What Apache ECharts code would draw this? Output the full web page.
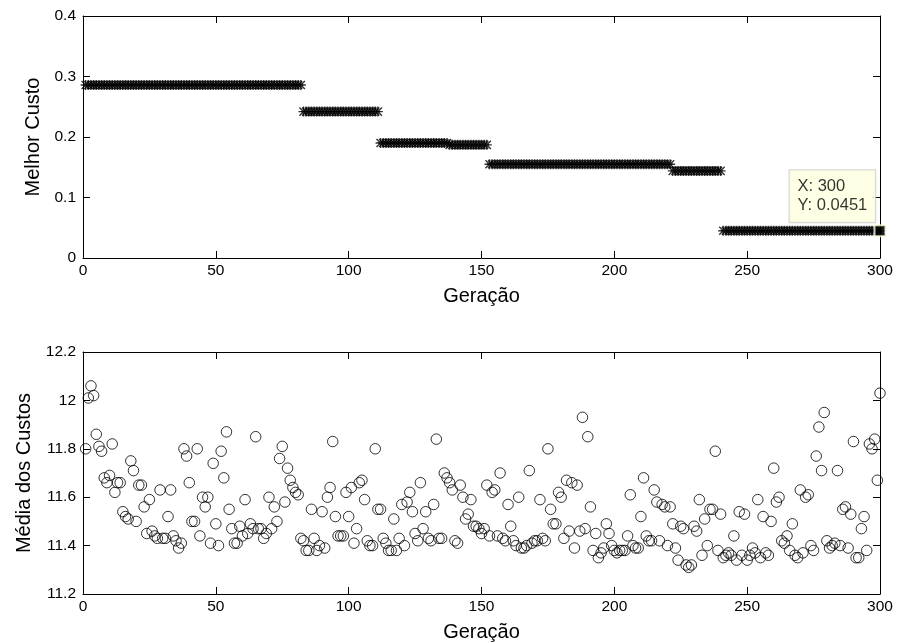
<!DOCTYPE html>
<html>
<head>
<meta charset="utf-8">
<script src="https://cdn.jsdelivr.net/npm/echarts@6/dist/echarts.min.js"></script>
<style>html,body{margin:0;padding:0;background:#fff}#c{width:898px;height:643px}</style>
</head>
<body>
<div id="c"></div>
<script>
// ---- Data ----
const xTickLabels = ['0','50','100','150','200','250','300'];
const topYTickLabels = ['0','0.1','0.2','0.3','0.4'];
const botYTickLabels = ['11.2','11.4','11.6','11.8','12','12.2'];

// Melhor Custo per generation (1..300)
const bestCost = [
0.286,0.286,0.286,0.286,0.286,0.286,0.286,0.286,0.286,0.286,
0.286,0.286,0.286,0.286,0.286,0.286,0.286,0.286,0.286,0.286,
0.286,0.286,0.286,0.286,0.286,0.286,0.286,0.286,0.286,0.286,
0.286,0.286,0.286,0.286,0.286,0.286,0.286,0.286,0.286,0.286,
0.286,0.286,0.286,0.286,0.286,0.286,0.286,0.286,0.286,0.286,
0.286,0.286,0.286,0.286,0.286,0.286,0.286,0.286,0.286,0.286,
0.286,0.286,0.286,0.286,0.286,0.286,0.286,0.286,0.286,0.286,
0.286,0.286,0.286,0.286,0.286,0.286,0.286,0.286,0.286,0.286,
0.286,0.286,
0.242,0.242,0.242,0.242,0.242,0.242,0.242,0.242,0.242,0.242,
0.242,0.242,0.242,0.242,0.242,0.242,0.242,0.242,0.242,0.242,
0.242,0.242,0.242,0.242,0.242,0.242,0.242,0.242,0.242,
0.190,0.190,0.190,0.190,0.190,0.190,0.190,0.190,0.190,0.190,
0.190,0.190,0.190,0.190,0.190,0.190,0.190,0.190,0.190,0.190,
0.190,0.190,0.190,0.190,0.190,0.190,
0.187,0.187,0.187,0.187,0.187,0.187,0.187,0.187,0.187,0.187,
0.187,0.187,0.187,0.187,0.187,
0.155,0.155,0.155,0.155,0.155,0.155,0.155,0.155,0.155,0.155,
0.155,0.155,0.155,0.155,0.155,0.155,0.155,0.155,0.155,0.155,
0.155,0.155,0.155,0.155,0.155,0.155,0.155,0.155,0.155,0.155,
0.155,0.155,0.155,0.155,0.155,0.155,0.155,0.155,0.155,0.155,
0.155,0.155,0.155,0.155,0.155,0.155,0.155,0.155,0.155,0.155,
0.155,0.155,0.155,0.155,0.155,0.155,0.155,0.155,0.155,0.155,
0.155,0.155,0.155,0.155,0.155,0.155,0.155,0.155,0.155,
0.144,0.144,0.144,0.144,0.144,0.144,0.144,0.144,0.144,0.144,
0.144,0.144,0.144,0.144,0.144,0.144,0.144,0.144,0.144,
0.0451,0.0451,0.0451,0.0451,0.0451,0.0451,0.0451,0.0451,0.0451,0.0451,
0.0451,0.0451,0.0451,0.0451,0.0451,0.0451,0.0451,0.0451,0.0451,0.0451,
0.0451,0.0451,0.0451,0.0451,0.0451,0.0451,0.0451,0.0451,0.0451,0.0451,
0.0451,0.0451,0.0451,0.0451,0.0451,0.0451,0.0451,0.0451,0.0451,0.0451,
0.0451,0.0451,0.0451,0.0451,0.0451,0.0451,0.0451,0.0451,0.0451,0.0451,
0.0451,0.0451,0.0451,0.0451,0.0451,0.0451,0.0451,0.0451,0.0451,0.0451
];

// Média dos Custos per generation (1..300)
const meanCost = [
11.80,12.01,12.06,12.02,11.86,11.81,11.79,11.68,11.66,11.69,
11.82,11.62,11.66,11.66,11.54,11.52,11.51,11.75,11.71,11.50,
11.65,11.65,11.56,11.45,11.59,11.46,11.44,11.43,11.63,11.43,
11.43,11.52,11.63,11.44,11.42,11.39,11.41,11.80,11.77,11.66,
11.50,11.50,11.80,11.44,11.60,11.56,11.60,11.41,11.74,11.49,
11.40,11.79,11.68,11.87,11.55,11.47,11.41,11.41,11.48,11.44,
11.59,11.45,11.49,11.47,11.85,11.47,11.47,11.43,11.45,11.60,
11.47,11.56,11.50,11.76,11.81,11.58,11.72,11.67,11.64,11.62,
11.61,11.43,11.42,11.38,11.38,11.55,11.43,11.38,11.40,11.54,
11.39,11.60,11.64,11.83,11.52,11.44,11.44,11.44,11.62,11.52,
11.64,11.41,11.47,11.66,11.67,11.59,11.42,11.40,11.40,11.80,
11.55,11.55,11.43,11.41,11.38,11.38,11.51,11.38,11.43,11.57,
11.40,11.58,11.62,11.54,11.45,11.42,11.66,11.47,11.54,11.43,
11.42,11.57,11.84,11.43,11.43,11.70,11.68,11.66,11.63,11.42,
11.41,11.65,11.60,11.51,11.53,11.59,11.48,11.48,11.47,11.45,
11.47,11.65,11.44,11.62,11.63,11.44,11.70,11.43,11.42,11.57,
11.48,11.42,11.40,11.60,11.39,11.39,11.40,11.71,11.41,11.42,
11.42,11.59,11.43,11.42,11.80,11.55,11.49,11.49,11.62,11.60,
11.43,11.67,11.46,11.66,11.39,11.65,11.46,11.93,11.47,11.85,
11.56,11.38,11.45,11.35,11.37,11.39,11.49,11.45,11.40,11.38,
11.37,11.38,11.38,11.38,11.44,11.61,11.40,11.39,11.39,11.52,
11.68,11.44,11.42,11.42,11.63,11.58,11.42,11.57,11.56,11.40,
11.56,11.49,11.39,11.34,11.48,11.47,11.32,11.31,11.32,11.48,
11.46,11.59,11.36,11.51,11.40,11.55,11.55,11.79,11.38,11.53,
11.35,11.36,11.37,11.36,11.44,11.34,11.54,11.36,11.53,11.34,
11.36,11.39,11.37,11.59,11.35,11.52,11.37,11.36,11.50,11.72,
11.58,11.60,11.42,11.41,11.44,11.38,11.49,11.36,11.35,11.63,
11.37,11.60,11.61,11.40,11.38,11.77,11.89,11.71,11.95,11.42,
11.39,11.40,11.41,11.71,11.40,11.55,11.56,11.39,11.53,11.83,
11.35,11.35,11.47,11.52,11.38,11.82,11.80,11.84,11.67,12.03
];

// Data tip point
const tipX = [300];
const tipY = [0.0451];

// ---- Chart ----
const FONT = '"Liberation Sans", Arial, Helvetica, sans-serif';
const chart = echarts.init(document.getElementById('c'), null, {renderer: 'canvas'});

const starPath = 'path://M4.3,0L5.7,0L5.7,10L4.3,10Z M0,4.3L10,4.3L10,5.7L0,5.7Z M1.45,0.45L9.55,8.55L8.55,9.55L0.45,1.45Z M8.55,0.45L9.55,1.45L1.45,9.55L0.45,8.55Z';

function xAx(grid, pos, showLabel) {
  return {
    gridIndex: grid, type: 'value', position: pos, min: 0, max: 300, interval: 50,
    axisLine: {show: true, onZero: false, lineStyle: {color: '#000', width: 1}},
    axisTick: {show: true, inside: true, length: 7, lineStyle: {color: '#000'}},
    axisLabel: {show: showLabel, color: '#000', fontSize: 15.5, fontFamily: FONT, margin: 5,
      formatter: v => { const i = xTickLabels.indexOf(String(Math.round(v))); return i >= 0 ? xTickLabels[i] : ''; }},
    splitLine: {show: false},
    name: showLabel ? 'Geração' : '', nameLocation: 'middle', nameGap: 28,
    nameTextStyle: {color: '#000', fontSize: 20, fontFamily: FONT}
  };
}
function yAx(grid, pos, showLabel, min, max, interval, labels, name) {
  return {
    gridIndex: grid, type: 'value', position: pos, min: min, max: max, interval: interval,
    axisLine: {show: true, onZero: false, lineStyle: {color: '#000', width: 1}},
    axisTick: {show: true, inside: true, length: 7, lineStyle: {color: '#000'}},
    axisLabel: {show: showLabel, color: '#000', fontSize: 15.5, fontFamily: FONT, margin: 7,
      formatter: v => { const i = Math.round((v - min) / interval); return labels[i] !== undefined ? labels[i] : ''; }},
    splitLine: {show: false},
    name: showLabel ? name : '', nameLocation: 'middle', nameGap: 35, nameRotate: 90,
    nameTextStyle: {color: '#000', fontSize: 20, fontFamily: FONT}
  };
}

const option = {
  backgroundColor: '#fff',
  animation: false,
  grid: [
    {left: 83, width: 797, top: 16, height: 242, show: false},
    {left: 83, width: 797, top: 352, height: 242, show: false}
  ],
  xAxis: [xAx(0, 'bottom', true), xAx(0, 'top', false), xAx(1, 'bottom', true), xAx(1, 'top', false)],
  yAxis: [
    yAx(0, 'left', true, 0, 0.4, 0.1, topYTickLabels, 'Melhor Custo'),
    yAx(0, 'right', false, 0, 0.4, 0.1, topYTickLabels, ''),
    yAx(1, 'left', true, 11.2, 12.2, 0.2, botYTickLabels, 'Média dos Custos'),
    yAx(1, 'right', false, 11.2, 12.2, 0.2, botYTickLabels, '')
  ],
  series: [
    {
      type: 'scatter', xAxisIndex: 0, yAxisIndex: 0,
      data: bestCost.map((v, i) => [i + 1, v]),
      symbol: starPath, symbolSize: 10,
      itemStyle: {color: '#000'}, silent: true
    },
    {
      type: 'scatter', xAxisIndex: 0, yAxisIndex: 0,
      data: tipX.map((x, i) => [x, tipY[i]]),
      symbol: 'rect', symbolSize: 11,
      itemStyle: {color: '#000', borderColor: '#ffffe0', borderWidth: 2},
      z: 5,
      label: {
        show: true, position: [-84, -54],
        formatter: p => 'X: ' + p.value[0] + '\nY: ' + p.value[1],
        color: '#000', fontSize: 16.5, fontFamily: FONT, lineHeight: 19,
        backgroundColor: '#ffffe0', borderColor: '#c8c8c8', borderWidth: 1,
        padding: [7, 8, 7, 8], align: 'left', verticalAlign: 'top'
      }
    },
    {
      type: 'scatter', xAxisIndex: 2, yAxisIndex: 2,
      data: meanCost.map((v, i) => [i + 1, v]),
      symbol: 'circle', symbolSize: 10.5,
      itemStyle: {color: 'rgba(0,0,0,0)', borderColor: '#000', borderWidth: 1}, silent: true
    }
  ]
};
chart.setOption(option);
</script>
</body>
</html>
